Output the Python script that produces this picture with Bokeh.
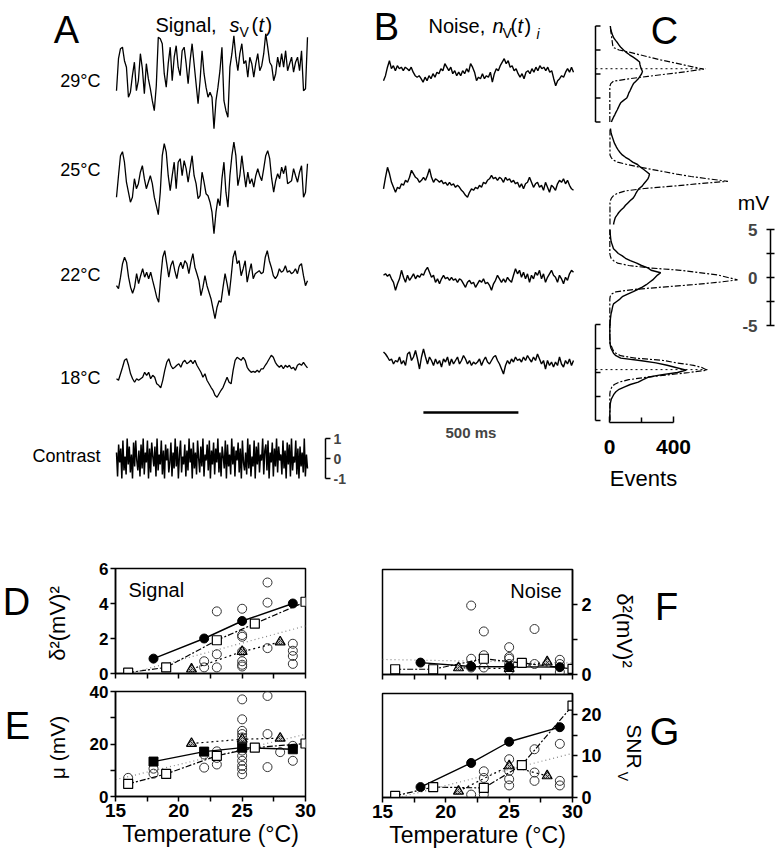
import numpy as np
from bokeh.plotting import figure
from bokeh.layouts import row, column
from bokeh.models import Range1d, Label, FixedTicker
from bokeh.embed import file_html
from bokeh.resources import INLINE

FONT = "Liberation Sans"

# ---------------- data ----------------
# A: signal traces (trace units), 1 s long
sig_29 = [-3.7, 2.7, 4.7, 5.0, 2.3, 1.0, -5.0, -4.0, -0.7, 2.0, -3.7, -1.7, 3.7, 0.7, -4.3, 1.7, -1.3, -3.3, -5.7, -7.7,
          -2.7, 7.0, 6.7, 5.7, -0.3, -3.0, 1.7, 5.0, -1.7, 3.0, 5.3, 1.0, -0.7, 4.3, 5.0, 1.7, -2.3, 2.3, 5.7, 1.7,
          -2.3, -6.3, -1.7, 4.3, -0.3, -3.0, -5.0, -4.0, -5.0, -11.3, -5.7, -3.0, 0.3, 5.0, -5.7, -7.7, -9.0, 1.0, 3.7, 7.3,
          3.0, 0.3, 3.7, 5.7, 1.7, 2.3, -1.0, 3.0, 1.7, -1.0, 1.7, 3.7, 0.3, 1.3, 3.7, 7.7, 5.0, 2.0, 1.3, -1.7,
          -0.3, 3.0, 1.0, 3.7, 1.0, 4.3, 0.3, 1.7, 3.0, 0.0, 2.0, 3.0, 0.3, 4.3, -3.7, -3.3, 7.0]
sig_25 = [-3.0, 1.3, 5.3, 6.1, 4.0, 0.0, -2.0, -4.0, -3.0, 0.7, -1.3, -0.3, 2.0, 3.3, 0.7, -1.3, 0.0, 1.3, -0.3, -3.0,
          -4.7, -6.5, -2.0, 5.3, 7.7, 6.0, 1.3, -1.7, 1.3, 4.0, -1.3, 4.0, 4.7, 1.3, 4.3, 2.7, 0.0, 2.7, 5.3, 1.3,
          -0.3, -3.3, -2.7, 2.0, 0.0, -2.3, -2.7, -4.0, -6.0, -10.3, -6.0, -3.3, -4.7, 0.7, 4.0, -2.0, -5.0, 1.3, 5.3, 8.0,
          5.3, -0.7, 1.3, 5.3, 2.0, -1.0, 2.0, -0.3, 0.7, -1.0, 1.3, 2.7, 1.3, 0.3, 2.7, 5.3, 6.3, 4.7, 0.7, -2.0,
          0.3, 1.7, 0.7, 3.0, 1.7, 3.3, -0.3, 0.0, 0.3, 2.7, 1.3, 0.0, 2.0, 3.3, -3.0, -2.0, 3.7]
sig_22 = [-1.7, -2.3, 0.0, 2.7, 4.0, 3.0, 0.0, -2.0, -3.2, -2.0, 0.7, -1.3, 0.3, 1.7, 0.0, 1.0, -0.3, 1.0, -0.7, -2.3,
          -4.0, -5.0, 0.0, 4.0, 5.3, 2.7, 0.0, 2.3, 3.3, 1.3, -0.3, 2.0, 3.0, 1.7, 3.3, 2.7, 0.7, 3.0, 4.7, 2.0,
          0.7, -0.7, -3.7, -2.0, 0.3, -1.7, -3.0, -4.3, -6.3, -8.3, -6.0, -4.7, -5.0, -2.0, 0.7, -1.3, -3.7, 0.0, 4.0, 5.3,
          2.7, 3.3, 0.3, 1.7, 3.3, -1.0, 1.0, 2.7, -0.3, 0.7, 1.0, 1.3, 0.7, 1.0, 4.0, 5.3, 3.3, 2.0, 0.3, -0.3,
          0.3, 1.7, 1.0, 1.3, 2.3, 1.0, 1.3, 0.7, 1.0, 1.7, 0.7, 2.3, 2.7, 0.3, -1.7, -0.7]
sig_18 = [-1.0, -1.3, 0.0, 1.3, 2.7, 3.0, 1.7, 0.0, -1.0, -1.7, -1.0, -1.3, -1.0, -0.7, 0.3, -0.3, 0.3, -1.0, -0.3, -0.7,
          -2.0, -2.3, -2.8, -1.3, 0.7, 2.3, 3.0, 1.7, 1.0, 1.3, 1.7, 2.0, 1.3, 2.3, 2.7, 2.0, 2.3, 2.7, 2.0, 2.7,
          1.7, 1.0, 0.3, -0.7, 0.0, -1.3, -2.0, -2.7, -3.3, -4.3, -4.7, -4.0, -3.3, -2.7, -1.7, -0.7, -1.7, -2.0, 0.7, 2.7,
          3.3, 3.0, 2.7, 3.3, 2.7, 1.3, 0.7, 0.3, 0.5, 0.3, 0.7, 0.3, 1.0, 1.0, 1.7, 2.3, 3.0, 3.7, 3.3, 2.3,
          1.7, 1.3, 1.7, 1.0, 1.7, 1.3, 1.7, 1.0, 1.3, 0.7, 1.7, 2.0, 1.7, 2.3, 1.7, 1.2]
contrast = [0.3, -0.9, 0.7, -0.2, 0.5, -1.0, 0.9, -0.6, 0.1, -0.8, 1.0, -0.3, 0.6, -0.7, 0.2, -1.0, 0.8, -0.4, 0.9, -0.1,
            -0.6, 0.4, -0.9, 0.7, -0.5, 1.0, -0.8, 0.3, -0.2, 0.9, -1.0, 0.5, -0.7, 0.8, 0.1, -0.4, 0.6, -0.9, 1.0, -0.6,
            0.2, -0.3, 0.9, -0.8, 0.4, -1.0, 0.7, -0.1, 0.5, -0.7, -0.2, 0.8, -0.9, 0.3, -0.5, 1.0, -0.4, 0.6, -1.0, 0.2,
            0.9, -0.7, 0.1, -0.3, 0.7, -0.9, 0.4, -0.6, 1.0, -0.2, 0.5, -1.0, 0.8, -0.5, 0.3, -0.8, 0.9, 0.0, -0.7, 0.6,
            -0.4, 1.0, -0.9, 0.2, -0.1, 0.7, -0.6, 0.9, -1.0, 0.4, -0.3, 0.8, -0.8, 0.5, -0.2, 1.0, -0.7, 0.3, -0.9, 0.6,
            0.1, -0.5, 0.9, -1.0, 0.7, -0.4, 0.2, -0.8, 1.0, -0.3, 0.6, -0.9, 0.4, -0.1, 0.8, -0.7, 0.5, -1.0, 0.9, -0.2,
            -0.6, 0.3, -0.8, 1.0, -0.5, 0.7, -0.9, 0.1, -0.4, 0.9, -1.0, 0.6, -0.3, 0.8, -0.7, 0.2, -0.1, 1.0, -0.8, 0.4,
            0.7, -0.6, 0.9, -1.0, 0.3, -0.2, 0.8, -0.9, 0.5, -0.4, 1.0, -0.7, 0.6, -0.1, 0.2, -0.8, 0.9, -0.5, 0.4, -1.0,
            0.8, -0.3, 0.7, -0.9, 1.0, -0.6, 0.1, -0.2, 0.9, -0.8, 0.5, -1.0, 0.6, -0.4, 0.3, -0.7, 1.0, -0.9, 0.2, -0.5]
temp_labels = ["29°C", "25°C", "22°C", "18°C"]

# B: noise traces (trace units)
noise_29 = [-1.7, -0.7, 1.0, 2.3, 0.7, 1.3, 0.3, 1.3, 0.7, 1.0, 0.3, 1.0, 0.7, 0.3, 1.0, 0.0, -0.7, -1.0, -0.7, -1.3,
            -2.0, -1.0, -1.7, -0.7, -1.3, -0.3, -1.0, 0.0, -0.3, 0.7, 0.3, 1.7, 1.0, 0.3, 1.0, -0.3, 0.3, -0.7, 0.0, -0.7,
            0.3, -0.3, 0.7, 0.0, 1.7, 1.0, 0.0, -1.7, -1.0, -1.3, -0.3, -1.3, -0.7, -1.0, 0.0, -2.0, -0.3, 0.7, 0.3, 1.3,
            2.0, 2.7, 1.7, 2.3, 1.0, 1.3, 0.3, 0.7, -0.3, -1.0, -0.3, -1.3, 0.0, 0.3, -0.3, 0.7, 0.0, 1.0, 0.3, 1.3,
            0.7, 1.0, 0.3, 1.0, 0.0, 0.3, -1.3, -2.7, -1.7, -1.3, -0.7, -1.0, 0.0, 0.7, 0.0, 1.0, 0.0]
noise_25 = [-1.0, 1.3, 3.3, 2.0, 0.3, -0.7, -1.7, -0.7, -1.0, 0.0, -0.3, 0.7, 0.3, 1.3, 2.7, 2.0, 1.3, 1.0, 0.3, 0.7,
            1.3, 0.7, 1.7, 3.0, 1.3, 0.3, 1.0, 0.7, 0.3, 0.7, 0.0, 0.3, -0.3, 0.3, -0.3, 0.0, -0.7, -0.3, -0.7, -1.3,
            -1.7, -2.3, -2.7, -1.7, -1.0, -1.3, -0.7, -1.0, -0.3, -0.7, 0.3, 0.0, 0.7, 1.0, 1.7, 1.0, 1.3, 0.7, 1.3, 1.0,
            0.3, 1.3, 0.7, 1.0, 0.3, 0.7, 0.0, 0.3, -0.7, 0.0, -1.0, 0.0, 0.3, 1.3, 0.3, -0.7, 0.0, 0.3, -0.7, -0.3,
            -1.3, 0.3, -0.7, -1.7, -0.3, -0.7, -1.3, 0.0, 0.7, 0.3, 1.0, 0.0, 0.7, -0.3, -1.0, -1.3]
noise_22 = [0.7, 1.0, 0.5, 0.9, 0.0, -0.7, -2.3, -1.0, 0.0, 1.7, 0.3, -0.7, 0.7, -0.3, 0.3, 1.0, 0.0, 0.7, 0.3, 1.0,
            0.7, 1.7, 2.3, 1.3, 0.3, 0.7, -0.7, 0.0, -1.0, 0.0, 0.7, 0.0, 0.3, -0.3, 0.3, -0.3, 0.0, -0.7, 0.0, -0.3,
            -1.0, -1.7, -0.7, -0.3, -1.0, -0.7, -1.7, -1.0, -0.3, -0.7, 0.0, -1.0, -0.7, -1.3, -2.3, -1.0, -0.3, 0.7, 0.0, -0.7,
            0.0, -0.7, 0.3, -0.3, -0.7, 0.7, 2.0, 1.0, 1.7, 0.3, 1.3, 0.0, 1.0, -0.7, 0.7, 0.0, 1.3, 0.7, 1.7, 0.0,
            1.0, -0.7, 0.3, 1.0, 1.7, 0.7, 0.3, -0.7, 0.7, 0.0, -1.0, 0.3, -0.3, 1.0, 1.7, 1.3]
noise_18 = [1.7, 1.3, 0.7, 0.0, 0.3, -0.7, 0.0, -0.3, 0.7, -0.7, 0.0, -1.0, 1.3, 1.7, 0.0, 0.7, 2.0, 0.3, -1.7, 0.7,
            2.3, 0.7, -0.7, 0.7, 0.0, -1.0, 0.3, -0.7, 0.0, -1.3, 0.3, -0.3, 0.7, -1.0, 0.3, -0.7, 0.0, 0.7, -0.7, 0.0,
            1.0, 0.3, -0.7, 0.0, -1.0, -0.3, -0.7, -0.3, 0.3, -1.0, 0.0, 0.7, -0.3, -0.7, 0.0, 0.7, 1.0, 0.0, -0.7, -1.7,
            -2.7, -1.0, 0.0, -0.7, 0.3, -0.3, 0.7, 0.0, 0.3, -0.3, 0.7, 0.0, 1.0, 0.3, -0.3, 0.7, 0.0, 1.3, 0.3, -0.7,
            0.0, -1.7, 0.0, -1.0, -0.3, -1.3, -0.3, -1.0, 0.7, -0.7, -1.3, 0.0, -0.7, 0.3, -1.0, 0.0]

# C: amplitude histograms (mV bins, events)
hist_mv = [-5.0, -4.75, -4.5, -4.25, -4.0, -3.75, -3.5, -3.25, -3.0, -2.75, -2.5, -2.25, -2.0, -1.75,
           -1.5, -1.25, -1.0, -0.75, -0.5, -0.25, 0.0, 0.25, 0.5, 0.75, 1.0, 1.25, 1.5, 1.75, 2.0,
           2.25, 2.5, 2.75, 3.0, 3.25, 3.5, 3.75, 4.0, 4.25, 4.5, 4.75, 5.0]
hist_sig_29 = [12, 18, 25, 33, 40, 48, 55, 62, 70, 88, 108, 115, 120, 128, 135, 142, 150, 165, 180, 190, 200,
               206, 200, 194, 190, 188, 170, 148, 125, 105, 88, 72, 60, 50, 38, 27, 20, 15, 10, 7, 5]
hist_noise_29 = [2, 2, 2, 2, 2, 2, 2, 2, 2, 2, 2, 2, 2, 2, 2, 3, 8, 25, 120, 240, 360,
                 480, 590, 520, 450, 380, 310, 250, 190, 130, 60, 25, 20, 18, 16, 14, 12, 10, 8, 6, 5]
hist_sig_25 = [25, 28, 32, 37, 48, 58, 72, 88, 100, 115, 130, 148, 158, 165, 174, 185, 204, 215, 228, 240, 246,
               250, 232, 212, 192, 175, 145, 125, 100, 80, 66, 55, 45, 38, 30, 25, 20, 15, 10, 8, 6]
hist_noise_25 = [3, 3, 3, 3, 3, 3, 3, 3, 3, 3, 6, 12, 25, 50, 100, 220, 400, 560, 740, 620, 510,
                 420, 340, 260, 180, 110, 50, 20, 10, 3, 3, 3, 3, 3, 3, 3, 3, 3, 3, 3, 3]
hist_sig_22 = [3, 4, 5, 6, 8, 10, 14, 17, 20, 25, 45, 65, 80, 110, 145, 175, 205, 230, 250, 270, 285,
               300, 320, 260, 240, 200, 170, 130, 100, 80, 55, 40, 25, 20, 15, 10, 8, 6, 5, 4, 3]
hist_noise_22 = [2, 2, 2, 2, 2, 2, 2, 2, 2, 2, 2, 2, 4, 10, 40, 150, 330, 520, 680, 800, 740,
                 680, 560, 444, 250, 120, 50, 25, 10, 5, 2, 2, 2, 2, 2, 2, 2, 2, 2, 2, 2]
hist_sig_18 = [2, 2, 2, 2, 3, 3, 4, 5, 8, 12, 20, 28, 40, 60, 95, 130, 180, 210, 240, 320, 425,
               480, 420, 360, 290, 190, 70, 40, 25, 18, 10, 6, 4, 3, 3, 2, 2, 2, 2, 2, 2]
hist_noise_18 = [2, 2, 2, 2, 2, 2, 2, 2, 2, 2, 2, 2, 4, 8, 15, 30, 60, 120, 230, 360, 500,
                 610, 580, 525, 420, 338, 160, 70, 40, 25, 18, 12, 3, 2, 2, 2, 2, 2, 2, 2, 2]
hist_mean_29 = 0.55
hist_mean_18 = 0.3

# D-G: temperature dependence
grp_t = [18, 22, 25, 29]          # filled symbols
sq_t = [16, 19, 23, 26, 30]       # open squares
tri_t = [21, 25, 28]              # hatched triangles
fit_t = [15, 30]

D_grp = [0.85, 2.0, 3.0, 4.0]
D_sq = [0.05, 0.35, 1.9, 2.85, 4.1]
D_tri = [0.25, 1.25, 1.8]
D_cell_t = [22, 22, 23, 23, 23, 25, 25, 25, 25, 25, 25, 25, 27, 27, 27, 29, 29, 29, 29]
D_cell = [0.7, 0.35, 3.55, 1.1, 0.35, 3.7, 2.2, 2.1, 1.25, 0.7, 0.5, 0.4, 5.2, 4.05, 1.45, 1.7, 1.3, 1.0, 0.55]
D_fit = [-0.22, 2.72]

E_grp = [13.3, 17.1, 18.6, 18.0]
E_sq = [4.8, 8.6, 15.5, 18.6, 20.2]
E_tri = [20.2, 21.8, 22.2]
E_cell_t = [16, 18, 18, 22, 22, 23, 23, 23, 25, 25, 25, 25, 25, 25, 25, 25, 25, 25, 25, 25, 27, 27, 27, 28, 29, 29]
E_cell = [7.1, 10.6, 8.7, 11.0, 16.0, 17.2, 14.7, 12.2, 37.0, 29.4, 25.0, 23.8, 22.5, 20.6, 17.5, 15.5, 13.6, 11.7,
          10.4, 8.5, 38.3, 23.8, 11.2, 16.9, 13.6, 19.3]
E_fit = [6.4, 23.7]

F_grp = [0.34, 0.23, 0.22, 0.21]
F_sq = [0.15, 0.15, 0.45, 0.33, 0.16]
F_tri = [0.19, 0.17, 0.36]
F_cell_t = [22, 23, 27, 25, 22, 23, 23, 25, 25, 25, 27, 29, 29, 29, 22, 25]
F_cell = [1.97, 1.23, 1.3, 0.78, 0.45, 0.55, 0.2, 0.45, 0.3, 0.12, 0.3, 0.42, 0.3, 0.07, 0.2, 0.5]
F_fit = [0.43, 0.33]

G_grp = [2.5, 8.3, 13.4, 16.9]
G_sq = [0.4, 2.5, 2.3, 7.8, 22.1]
G_tri = [1.5, 7.6, 5.2]
G_cell_t = [22, 23, 23, 23, 25, 25, 25, 25, 27, 27, 27, 29, 29, 29]
G_cell = [0.7, 6.3, 4.7, 0.7, 9.2, 6.4, 4.4, 2.9, 11.6, 6.0, 4.0, 12.9, 4.0, 2.9]
G_fit = [-1.0, 10.6]

# ---------------- layout helpers ----------------
DUR = 1000.0          # ms per trace
TRACE_PX = 5.0        # px per trace unit
HIST_PX = 9.6         # px per mV in C
EV_PX = 0.16          # px per event in C


class Frame:
    def __init__(self, box, xr, yr):
        self.l, self.t, self.r, self.b = box
        self.xr, self.yr = xr, yr

    def x(self, px):
        return self.xr[0] + (px - self.l) / (self.r - self.l) * (self.xr[1] - self.xr[0])

    def y(self, py):
        return self.yr[0] + (self.b - py) / (self.b - self.t) * (self.yr[1] - self.yr[0])


def mk(page, frame, xr, yr, **kw):
    L, T, R, B = page
    fl, ft, fr_, fb = frame
    p = figure(width=R - L, height=B - T, x_range=Range1d(*xr), y_range=Range1d(*yr),
               min_border_left=fl - L, min_border_right=R - fr_, min_border_top=ft - T,
               min_border_bottom=B - fb, output_backend="svg", toolbar_location=None, **kw)
    try:
        p.frame_align = False
    except Exception:
        pass
    p.background_fill_color = "white"
    p.border_fill_color = "white"
    p.outline_line_color = None
    for g in p.grid:
        g.visible = False
    return p, Frame(frame, xr, yr)


def text_fig(page):
    L, T, R, B = page
    return mk(page, page, (L, R), (-B, -T), x_axis_type=None, y_axis_type=None)


def lab(p, f, px, py, text, size, style="normal", align="center", baseline="middle", angle=0.0):
    p.add_layout(Label(x=f.x(px), y=f.y(py), text=text, text_font=FONT, text_font_size=f"{size}px",
                       text_font_style=style, text_align=align, text_baseline=baseline,
                       angle=angle, text_color="black"))


def style_axis(ax, ticks, minor=(), size="19px"):
    ax.ticker = FixedTicker(ticks=list(ticks), minor_ticks=list(minor))
    ax.axis_line_color = "black"
    ax.axis_line_width = 1.5
    ax.major_tick_line_color = "black"
    ax.major_tick_line_width = 1.5
    ax.minor_tick_line_color = "black"
    ax.minor_tick_line_width = 1.5
    ax.major_tick_in = 0
    ax.major_tick_out = 5
    ax.minor_tick_in = 0
    ax.minor_tick_out = 5
    ax.major_label_text_font = FONT
    ax.major_label_text_font_style = "bold"
    ax.major_label_text_color = "black"
    ax.major_label_text_font_size = size
    ax.major_label_standoff = 2
    ax.axis_label_text_font = FONT
    ax.axis_label_text_font_style = "normal"
    ax.axis_label_text_color = "black"


def t_axis(n):
    return np.linspace(0.0, DUR, n)


# ---------------- A: signal traces ----------------
A_PAGE = (0, 0, 350, 540)
A_T0, A_T1 = 116, 307
xrA = ((A_PAGE[0] - A_T0) / (A_T1 - A_T0) * DUR, (A_PAGE[2] - A_T0) / (A_T1 - A_T0) * DUR)
yrA = (0.0, (A_PAGE[3] - A_PAGE[1]) / TRACE_PX)
pA, fA = mk(A_PAGE, A_PAGE, xrA, yrA, x_axis_type=None, y_axis_type=None)

A_centers = [71.7, 181.7, 276.7, 373.3]
A_label_y = [80, 169, 274, 377]
for vals, c, txt, ly in zip([sig_29, sig_25, sig_22, sig_18], A_centers, temp_labels, A_label_y):
    pA.line(t_axis(len(vals)), np.array(vals) + fA.y(c), line_color="black", line_width=1.3)
    lab(pA, fA, 100, ly, txt, 18, align="right")

C_CENTER, C_UNIT_PX = 458, 20.0
pA.line(t_axis(len(contrast)), np.array(contrast) * C_UNIT_PX / TRACE_PX + fA.y(C_CENTER),
        line_color="black", line_width=1.5)
lab(pA, fA, 100, 455, "Contrast", 18, align="right")
cs_ticks = [1, 0, -1]
sx, sx2 = fA.x(325), fA.x(330)
cs_y = [fA.y(C_CENTER) + v * C_UNIT_PX / TRACE_PX for v in cs_ticks]
pA.line([sx, sx], [cs_y[0], cs_y[-1]], line_color="black", line_width=1.5)
pA.segment(x0=[sx] * 3, y0=cs_y, x1=[sx2] * 3, y1=cs_y, line_color="black", line_width=1.5)
for v, yy in zip(cs_ticks, cs_y):
    pA.add_layout(Label(x=fA.x(333), y=yy, text=str(v), text_font=FONT, text_font_size="14px",
                        text_font_style="bold", text_align="left", text_baseline="middle"))

lab(pA, fA, 66, 29, "A", 38)
lab(pA, fA, 155, 24, "Signal,", 20, baseline="alphabetic", align="left")
lab(pA, fA, 229, 24, "s", 20, style="italic", baseline="alphabetic", align="left")
lab(pA, fA, 239, 31, "V", 14, baseline="alphabetic", align="left")
lab(pA, fA, 251, 24, "(", 20, baseline="alphabetic", align="left")
lab(pA, fA, 258, 24, "t", 20, style="italic", baseline="alphabetic", align="left")
lab(pA, fA, 265, 24, ")", 20, baseline="alphabetic", align="left")

# ---------------- B: noise traces ----------------
B_PAGE = (350, 0, 590, 540)
B_T0, B_T1 = 383, 573
xrB = ((B_PAGE[0] - B_T0) / (B_T1 - B_T0) * DUR, (B_PAGE[2] - B_T0) / (B_T1 - B_T0) * DUR)
yrB = (0.0, (B_PAGE[3] - B_PAGE[1]) / TRACE_PX)
pB, fB = mk(B_PAGE, B_PAGE, xrB, yrB, x_axis_type=None, y_axis_type=None)
B_centers = [71.7, 183.3, 278.3, 360.0]
for vals, c in zip([noise_29, noise_25, noise_22, noise_18], B_centers):
    pB.line(t_axis(len(vals)), np.array(vals) + fB.y(c), line_color="black", line_width=1.4)
bar_ms = [210.0, 710.0]
pB.line(bar_ms, [fB.y(412)] * 2, line_color="black", line_width=2.5)
pB.add_layout(Label(x=sum(bar_ms) / 2, y=fB.y(432), text="500 ms", text_font=FONT, text_font_size="15px",
                    text_font_style="bold", text_align="center", text_baseline="middle"))
lab(pB, fB, 386, 26, "B", 38)
lab(pB, fB, 428, 25, "Noise,", 20, baseline="alphabetic", align="left")
lab(pB, fB, 492, 25, "n", 20, style="italic", baseline="alphabetic", align="left")
lab(pB, fB, 502, 32, "V", 14, baseline="alphabetic", align="left")
lab(pB, fB, 510, 25, "(", 20, baseline="alphabetic", align="left")
lab(pB, fB, 517, 25, "t", 20, style="italic", baseline="alphabetic", align="left")
lab(pB, fB, 524, 25, ")", 20, baseline="alphabetic", align="left")
lab(pB, fB, 536, 33, "i", 14, style="italic", baseline="alphabetic", align="left")

# ---------------- C: histograms ----------------
C_PAGE = (590, 0, 782, 466)
C_FRAME = (590, 0, 782, 422)
EV0 = 609
xrC = ((C_FRAME[0] - EV0) / EV_PX, (C_FRAME[2] - EV0) / EV_PX)
yrC = (0.0, (C_FRAME[3] - C_FRAME[1]) / HIST_PX)
pC, fC = mk(C_PAGE, C_FRAME, xrC, yrC, y_axis_type=None)
C_centers = [73.5, 176.0, 277.0, 372.0]
mv = np.array(hist_mv)
for sig, noi, c in zip([hist_sig_29, hist_sig_25, hist_sig_22, hist_sig_18],
                       [hist_noise_29, hist_noise_25, hist_noise_22, hist_noise_18], C_centers):
    off = fC.y(c)
    pC.line(noi, mv + off, line_color="black", line_width=1.2, line_dash="6 2 2 2")
    pC.line(sig, mv + off, line_color="black", line_width=1.4)

br_x, br_x2 = fC.x(595), fC.x(600)
for c, mean, noi in [(C_centers[0], hist_mean_29, hist_noise_29), (C_centers[3], hist_mean_18, hist_noise_18)]:
    off = fC.y(c)
    ticks = [off - 5, off - 2.5, off, off + 2.5, off + 5]
    pC.line([br_x, br_x], [off - 5, off + 5], line_color="black", line_width=1.5)
    pC.segment(x0=[br_x] * 5, y0=ticks, x1=[br_x2] * 5, y1=ticks, line_color="black", line_width=1.5)
    pC.line([br_x, max(noi) * 1.02], [off + mean] * 2, line_color="black", line_width=1, line_dash="2 3")

off22 = fC.y(C_centers[2])
mv_ticks = [5, 2.5, 0, -2.5, -5]
bx, bx0, bx1 = fC.x(770), fC.x(766), fC.x(774)
pC.line([bx, bx], [off22 - 5, off22 + 5], line_color="black", line_width=1.5)
pC.segment(x0=[bx0] * 5, y0=[off22 + v for v in mv_ticks], x1=[bx1] * 5, y1=[off22 + v for v in mv_ticks],
           line_color="black", line_width=1.5)
for v in [5, 0, -5]:
    pC.add_layout(Label(x=fC.x(757), y=off22 + v, text=str(v), text_font=FONT, text_font_size="17px",
                        text_font_style="bold", text_align="right", text_baseline="middle"))
lab(pC, fC, 753, 202, "mV", 21)
lab(pC, fC, 664, 30, "C", 38)

axC = pC.xaxis[0]
style_axis(axC, [0, 400], [200], size="21px")
axC.bounds = (0, 400)
axC.major_tick_in = 6
axC.major_tick_out = 0
axC.minor_tick_in = 5
axC.minor_tick_out = 0
axC.major_label_standoff = 17

CT_PAGE = (590, 466, 782, 540)
pCT, fCT = text_fig(CT_PAGE)
lab(pCT, fCT, 643, 478, "Events", 22)

# ---------------- D-G ----------------
def panel(p, t_cell, cell, grp, sq, tri, fit, filled_marker="circle"):
    p.line(fit_t, fit, line_color="#888888", line_width=1.2, line_dash="1 3")
    p.scatter(t_cell, cell, marker="circle", size=9, fill_color=None, line_color="#333333", line_width=1)
    p.line(tri_t, tri, line_color="black", line_width=1.2, line_dash="2 3")
    p.line(sq_t, sq, line_color="black", line_width=1.2, line_dash="6 2 2 2")
    p.line(grp_t, grp, line_color="black", line_width=1.4)
    p.scatter(sq_t, sq, marker="square", size=9, fill_color="white", line_color="black", line_width=1.2)
    p.scatter(tri_t, tri, marker="triangle", size=10, fill_color="#bbbbbb", line_color="black",
              line_width=1.2, hatch_pattern="diagonal_cross", hatch_scale=4, hatch_color="#333333")
    p.scatter(grp_t, grp, marker=filled_marker, size=9, fill_color="black", line_color="black")
    p.outline_line_color = "black"
    p.outline_line_width = 1.5


D_PAGE, D_FRAME = (80, 540, 345, 683), (115, 568, 305, 673)
E_PAGE, E_FRAME = (80, 683, 345, 853), (115, 691, 305, 796)
F_PAGE, F_FRAME = (345, 540, 612, 686), (382, 569, 572, 674)
G_PAGE, G_FRAME = (345, 686, 612, 853), (382, 693, 572, 797)

pD, fD = mk(D_PAGE, D_FRAME, (15, 30), (0, 6))
pE, fE = mk(E_PAGE, E_FRAME, (15, 30), (0, 40))
pF, fF = mk(F_PAGE, F_FRAME, (15, 30), (0, 3), y_axis_location="right")
pG, fG = mk(G_PAGE, G_FRAME, (15, 30), (0, 25), y_axis_location="right")

panel(pD, D_cell_t, D_cell, D_grp, D_sq, D_tri, D_fit)
panel(pE, E_cell_t, E_cell, E_grp, E_sq, E_tri, E_fit, filled_marker="square")
panel(pF, F_cell_t, F_cell, F_grp, F_sq, F_tri, F_fit)
panel(pG, G_cell_t, G_cell, G_grp, G_sq, G_tri, G_fit)

x_major, x_minor = [15, 20, 25, 30], [17.5, 22.5, 27.5]
x_all = [15, 17.5, 20, 22.5, 25, 27.5, 30]
style_axis(pD.xaxis[0], [], x_all)
style_axis(pD.yaxis[0], [0, 2, 4, 6], size="17px")
style_axis(pE.xaxis[0], x_major, x_minor)
style_axis(pE.yaxis[0], [0, 20, 40], [10, 30], size="17px")
style_axis(pF.xaxis[0], [], x_all)
style_axis(pF.yaxis[0], [0, 2], [1], size="18px")
style_axis(pG.xaxis[0], x_major, x_minor)
style_axis(pG.yaxis[0], [0, 10, 20], [5, 15], size="18px")
for ax in [pE.xaxis[0], pG.xaxis[0]]:
    ax.major_label_standoff = 2
    ax.axis_label = "Temperature (°C)"
    ax.axis_label_text_font_size = "23px"
    ax.axis_label_standoff = 1
for ax in [pF.yaxis[0], pG.yaxis[0]]:
    ax.major_label_standoff = 4

lab(pD, fD, 128, 589, "Signal", 20, align="left")
lab(pF, fF, 561, 590, "Noise", 20, align="right")

# text columns beside the panels
TL_PAGE = (0, 540, 80, 853)
pTL, fTL = text_fig(TL_PAGE)
lab(pTL, fTL, 16, 601, "D", 38)
lab(pTL, fTL, 57, 623, "δ²(mV)²", 22, angle=np.pi / 2)
lab(pTL, fTL, 17, 725, "E", 38)
lab(pTL, fTL, 57, 747, "μ (mV)", 21, angle=np.pi / 2)

TR_PAGE = (612, 540, 782, 853)
pTR, fTR = text_fig(TR_PAGE)
lab(pTR, fTR, 666, 606, "F", 38)
lab(pTR, fTR, 624, 630, "δ²(mV)²", 22, angle=-np.pi / 2)
lab(pTR, fTR, 664, 731, "G", 38)
lab(pTR, fTR, 634, 746, "SNR", 21, angle=-np.pi / 2)
lab(pTR, fTR, 622, 776, "V", 14, angle=-np.pi / 2)

layout = column(row(pA, pB, column(pC, pCT)), row(pTL, column(pD, pE), column(pF, pG), pTR))
open("out.html", "w").write(file_html(layout, INLINE))
